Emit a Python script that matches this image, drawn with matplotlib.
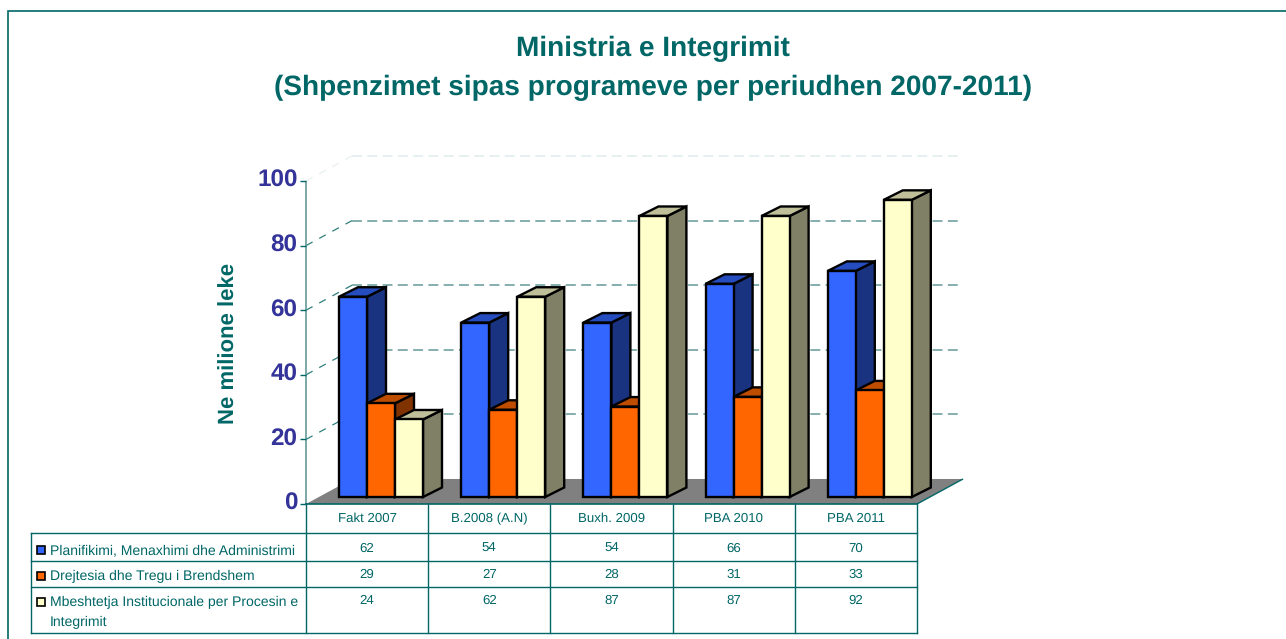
import matplotlib
matplotlib.use("Agg")
import matplotlib.pyplot as plt
from matplotlib.patches import Polygon, Rectangle
from matplotlib.transforms import Affine2D

plt.rcParams["font.family"] = ["Liberation Sans", "DejaVu Sans"]
plt.rcParams["text.hinting"] = "no_hinting"

categories = ["Fakt 2007", "B.2008 (A.N)", "Buxh. 2009", "PBA 2010", "PBA 2011"]
series_names = ["Planifikimi, Menaxhimi dhe Administrimi",
                "Drejtesia dhe Tregu i Brendshem",
                "Mbeshtetja Institucionale per Procesin e\nIntegrimit"]
planifikimi = [62, 54, 54, 66, 70]
drejtesia = [29, 27, 28, 31, 33]
mbeshtetja = [24, 62, 87, 87, 92]
y_ticks = [0, 20, 40, 60, 80, 100]

W, H = 1286, 639
TEAL = "#006666"
GRID = "#669999"

# one category = 122.2 px, one unit of value = 3.23 px, origin at pixel (306, 504)
XU, YU = 122.2, 3.23
X0, Y0 = 306, 504

fig = plt.figure(figsize=(W / 100, H / 100), dpi=100)
ax = fig.add_axes([0, 0, 1, 1])
ax.set_xlim(-X0 / XU, (W - X0) / XU)
ax.set_ylim((Y0 - H) / YU, Y0 / YU)
ax.axis("off")

# for frame, table and labels that are laid out in pixels
px = Affine2D().scale(1, -1).translate(0, H)

WALL_DX, WALL_DY = 46 / XU, 25 / YU     # depth of the whole chart box
BAR_DX, BAR_DY = 19 / XU, 9.5 / YU      # depth of one bar
BASE_DX, BASE_DY = 13 / XU, 7 / YU      # bars stand a bit behind the front edge
BAR_W = 28 / XU
GROUP_GAP = 20 / XU


def line(xs, ys, **kw):
    ax.plot(xs, ys, solid_capstyle="butt", **kw)


# floor
n = len(categories)
ax.add_patch(Polygon([(0, 0), (n, 0), (n + WALL_DX, WALL_DY), (WALL_DX, WALL_DY)],
                     closed=True, fc="#808080", ec="none", zorder=1))
line([n, n + WALL_DX], [0, WALL_DY], color=TEAL, lw=1.0, zorder=2)
line([WALL_DX, n + WALL_DX], [WALL_DY, WALL_DY], color="#d8d8d8", lw=0.8, zorder=0.5)

# gridlines on the side and back walls
for v in y_ticks[1:]:
    c = "#dfecec" if v == 100 else GRID
    side = "#e8f0f0" if v == 100 else "#2f7f7f"
    ax.plot([0, WALL_DX], [v, v + WALL_DY], color=side, lw=0.9, dashes=(6, 6), zorder=0.6)
    ax.plot([WALL_DX, n + WALL_DX], [v + WALL_DY, v + WALL_DY], color=c, lw=1.1, dashes=(6.5, 3.5), zorder=0.6)

# y axis
line([0, 0], [0, 100], color=GRID, lw=1.2, zorder=3)
for v in y_ticks:
    line([-6 / XU, 0], [v, v], color=TEAL, lw=1.0, zorder=3)
    ax.text(-8.5 / XU, v + 2.5 / YU, str(v), ha="right", va="center_baseline", fontsize=17.5,
            fontweight="bold", color="#333399")

# 3d bars, left to right so later fronts cover earlier sides
bar_series = [planifikimi, drejtesia, mbeshtetja]
fronts = ["#3366FF", "#FF6600", "#FFFFCC"]
tops = ["#264DBF", "#BF4D00", "#BFBF99"]
sides = ["#1A3380", "#803300", "#808066"]
for i in range(n):
    for s, vals in enumerate(bar_series):
        x = i + GROUP_GAP + BASE_DX + s * BAR_W
        b = BASE_DY
        t = b + vals[i]
        style = dict(closed=True, ec="black", lw=1.7, joinstyle="miter", zorder=5)
        ax.add_patch(Polygon([(x + BAR_W, b), (x + BAR_W + BAR_DX, b + BAR_DY), (x + BAR_W + BAR_DX, t + BAR_DY), (x + BAR_W, t)],
                             fc=sides[s], **style))
        ax.add_patch(Polygon([(x, t), (x + BAR_W, t), (x + BAR_W + BAR_DX, t + BAR_DY), (x + BAR_DX, t + BAR_DY)],
                             fc=tops[s], **style))
        ax.add_patch(Rectangle((x, b), BAR_W, vals[i], fc=fronts[s], ec="black", lw=1.7, joinstyle="miter", zorder=5))

# frame, cut by the picture on the right and bottom
ax.plot([8, 8, W], [H, 10.5, 10.5], color=TEAL, lw=1.2, transform=px, solid_joinstyle="miter", clip_on=False)

# table
col_x = [X0 + XU * k for k in range(n + 1)]
row_y = [533, 561, 587, 633]
ax.plot([col_x[0], col_x[-1]], [504, 504], color=TEAL, lw=1.2, transform=px, zorder=3)
for yy in row_y:
    ax.plot([31, col_x[-1]], [yy, yy], color=TEAL, lw=1.0, transform=px, zorder=3)
for xx in col_x:
    ax.plot([xx, xx], [504, 633], color=TEAL, lw=1.0, transform=px, zorder=3)
ax.plot([31, 31], [533, 633], color=TEAL, lw=1.0, transform=px, zorder=3)

for k, name in enumerate(categories):
    ax.text(col_x[k] + XU / 2, 519, name, transform=px, ha="center", va="center", fontsize=9.5, color=TEAL)

label_y = [550, 576, 602]
for s, vals in enumerate(bar_series):
    ax.add_patch(Rectangle((36.5, label_y[s] - 4), 8, 8, transform=px, fc=fronts[s], ec="black", lw=1.2, zorder=4))
    ax.text(50, label_y[s] + 0.5 if s < 2 else label_y[s] + 10.5, series_names[s], transform=px, ha="left", va="center",
            fontsize=10.1, color=TEAL, linespacing=1.6)
    for k, v in enumerate(vals):
        ax.text(col_x[k] + XU / 2, label_y[s] - 1, str(v), transform=px, ha="center", va="center", fontsize=9.5, color=TEAL)

# titles
ax.text(653, 49, "Ministria e Integrimit", transform=px, ha="center", va="center", fontsize=20.2,
        fontweight="bold", color=TEAL)
ax.text(653, 88, "(Shpenzimet sipas programeve per periudhen 2007-2011)", transform=px, ha="center", va="center",
        fontsize=20.2, fontweight="bold", color=TEAL)
ax.text(229, 343, "Ne milione leke", transform=px, rotation=90, ha="center", va="center", fontsize=15.9,
        fontweight="bold", color=TEAL)

fig.savefig("out.png", dpi=100)
